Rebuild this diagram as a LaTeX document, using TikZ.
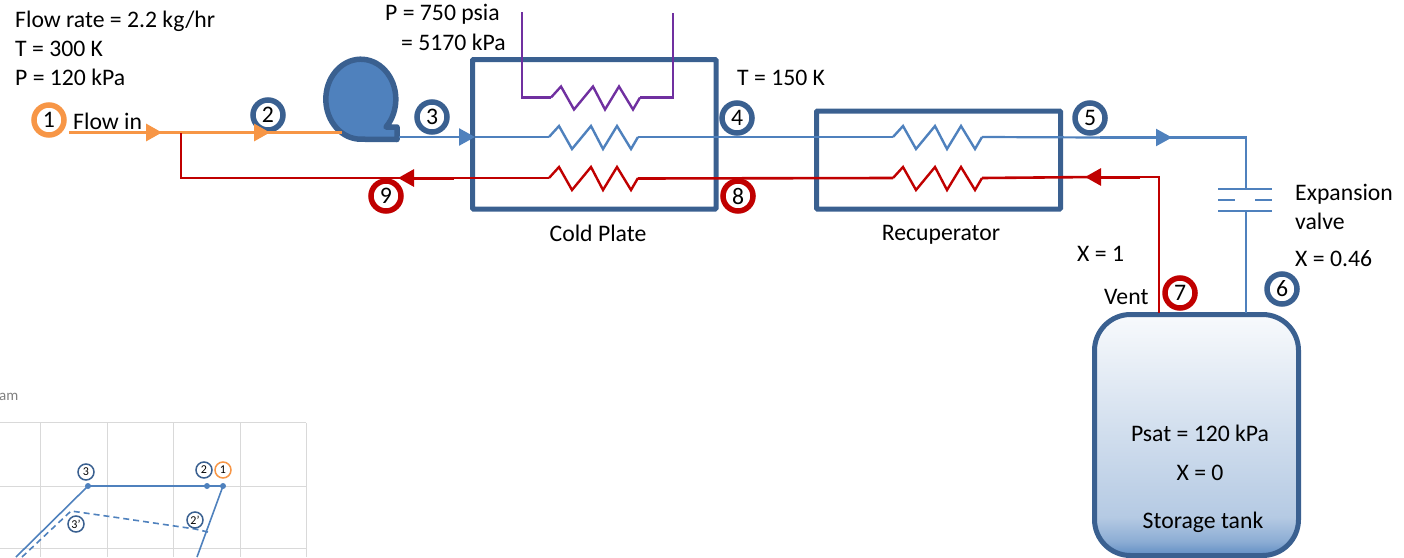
\documentclass[tikz,border=0pt]{standalone}
\usepackage{fontspec}
\setmainfont{Carlito}
\usetikzlibrary{arrows.meta}
\definecolor{boxblue}{HTML}{3A6090}
\definecolor{lineblue}{HTML}{4F81BD}
\definecolor{lineorange}{HTML}{F79646}
\definecolor{linered}{HTML}{C00000}
\definecolor{linepurple}{HTML}{7030A0}
\definecolor{gridgrey}{HTML}{D9D9D9}
\pgfdeclareverticalshading{tankshade}{100bp}{color(0bp)=(lineblue!90); color(25bp)=(lineblue!90); color(28bp)=(lineblue!65); color(33bp)=(lineblue!42); color(75bp)=(lineblue!4); color(100bp)=(lineblue!4)}
\tikzstyle{txt}=[inner sep=0pt, anchor=west, font=\fontsize{23.7}{28}\selectfont]
\tikzstyle{ctxt}=[txt, anchor=center]
\tikzstyle{tag}=[circle, draw, line width=5.5pt, fill=white, inner sep=0pt, minimum size=30pt, font=\fontsize{23.7}{28}\selectfont]
\tikzstyle{smalltag}=[circle, draw=boxblue, line width=1.5pt, fill=white, inner sep=0pt, minimum size=16pt, font=\fontsize{12}{14}\selectfont]
\tikzstyle{unit}=[draw=boxblue, line width=5pt, rounded corners=1pt, inner sep=0pt]
\tikzstyle{tip}=[-{Triangle[length=16pt,width=17pt]}]
\tikzset{coil/.pic={\draw[pic actions, line width=2.4pt] (0,0) -- (10,-11) -- (23,12) -- (42,-11) -- (54,12) -- (68,-11) -- (82,12) -- (89,0);}}
\begin{document}
\begin{tikzpicture}[x=1pt, y=-1pt]
\useasboundingbox (0,0) rectangle (1404,557);
% Chart
    \node[inner sep=0pt, anchor=west, text=gray, font=\fontsize{15}{18}\selectfont] (chartname) at (-1,397) {am};
    \draw[gridgrey, line width=1pt] (0,422.5) -- (306,422.5);
    \draw[gridgrey, line width=1pt] (0,486) -- (306,486);
    \draw[gridgrey, line width=1pt] (0,548) -- (306,548);
    \draw[gridgrey, line width=1pt] (40.5,422.5) -- (40.5,557);
    \draw[gridgrey, line width=1pt] (107,422.5) -- (107,557);
    \draw[gridgrey, line width=1pt] (173,422.5) -- (173,557);
    \draw[gridgrey, line width=1pt] (240,422.5) -- (240,557);
    \draw[gridgrey, line width=1pt] (306,422.5) -- (306,557);
    \draw[lineblue, line width=1.6pt] (16,557) -- (88,486) -- (223,486) -- (197,557);
    \draw[lineblue, line width=1.6pt, dash pattern=on 6pt off 4pt] (22,557) -- (71,511) -- (120,518) -- (195,529) -- (208,532);
    \fill[lineblue] (88,486) circle(3);
    \fill[lineblue] (207,486) circle(3);
    \fill[lineblue] (223,486) circle(3);
    \node[smalltag] (chartthree) at (86,472) {3};
    \node[smalltag] (charttwo) at (204,470) {2};
    \node[smalltag, draw=lineorange] (chartone) at (223,470) {1};
    \node[smalltag] (chartthreep) at (76,524) {3'};
    \node[smalltag] (charttwop) at (195,520) {2'};
% Units
    \node[unit, minimum width=243.5pt, minimum height=149.5pt] (coldplate) at (594.25,134.25) {};
    \node[unit, minimum width=244pt, minimum height=98pt] (recuperator) at (938.5,160) {};
    \node[unit, rounded corners=36pt, shading=tankshade, minimum width=204pt, minimum height=241pt] (tank) at (1196.5,435) {};
% Pump
    \draw[draw=boxblue, fill=lineblue, line width=5.5pt, line join=round] (397,139.5) -- (397,127) -- (386,127) arc[start angle=44, end angle=-270, x radius=35, y radius=40] -- cycle;
    \coordinate (pumpin) at (342,132.5);
    \coordinate (pumpout) at (399,137);
% Numbers
    \node[tag, draw=lineorange] (one) at (49,120) {1};
    \node[tag, draw=boxblue] (two) at (268,115) {2};
    \node[tag, draw=boxblue] (three) at (432,117) {3};
    \node[tag, draw=boxblue] (four) at (737,118) {4};
    \node[tag, draw=boxblue] (five) at (1090,118) {5};
    \node[tag, draw=boxblue] (six) at (1282,289) {6};
    \node[tag, draw=linered] (seven) at (1180,293) {7};
    \node[tag, draw=linered] (eight) at (738,196) {8};
    \node[tag, draw=linered] (nine) at (386,196) {9};
% Stream points
    \coordinate (inlet) at (69,132.5);
    \coordinate (tee) at (181,132.5);
    \coordinate (teelow) at (181,178);
    \coordinate (bluebend) at (1246,137.5);
    \coordinate (valvetop) at (1246,189);
    \coordinate (valvelow) at (1246,211);
    \coordinate (tankblue) at (1246,313);
    \coordinate (tankred) at (1159,313);
    \coordinate (redbend) at (1159,177);
% Orange feed
    \draw[lineorange, line width=2.2pt] (inlet) -- (pumpin);
    \draw[lineorange, line width=3.2pt, tip] (103,132.5) -- (162,132.5);
    \draw[lineorange, line width=3.2pt, tip] (210,132.5) -- (270,132.5);
% Blue stream
    \draw[lineblue, line width=2.5pt, tip] (pumpout) -- (475,137);
    \draw[lineblue, line width=2.2pt] (475,137) -- (549,137);
    \pic[lineblue] at (549,137) {coil};
    \draw[lineblue, line width=2.2pt] (638,137) -- (893,137);
    \pic[lineblue] at (893,137) {coil};
    \draw[lineblue, line width=2.2pt] (982,137) -- (1100,137.5);
    \draw[lineblue, line width=2.2pt, tip] (1100,137.5) -- (1172,137.5);
    \draw[lineblue, line width=2.2pt] (1160,137.5) -- (bluebend) -- (valvetop);
    \draw[lineblue, line width=2.2pt] (valvelow) -- (tankblue);
% Valve
    \draw[lineblue, line width=1.8pt] (1218,189) -- (1272,189);
    \draw[lineblue, line width=1.8pt] (1218,200) -- (1235,200);
    \draw[lineblue, line width=1.8pt] (1255,200) -- (1272,200);
    \draw[lineblue, line width=1.8pt] (1218,211) -- (1272,211);
% Red return
    \draw[linered, line width=2.6pt] (tankred) -- (redbend) -- (1099,177);
    \draw[linered, line width=3pt, tip] (1140,177) -- (1085,177);
    \draw[linered, line width=2.6pt] (1095,177) -- (982,178);
    \pic[linered] at (893,178) {coil};
    \draw[linered, line width=2.6pt] (893,178) -- (638,178.5);
    \pic[linered] at (549,178) {coil};
    \draw[linered, line width=2.6pt] (549,178) -- (teelow) -- (tee);
    \draw[linered, line width=3pt, tip] (454,178) -- (398,178);
% Purple loop
    \coordinate (purpletopa) at (522,12);
    \coordinate (purpletopb) at (673,13);
    \draw[linepurple, line width=2.2pt] (purpletopa) -- (522,97.5) -- (551,97.5);
    \pic[linepurple] at (551,97.5) {coil};
    \draw[linepurple, line width=2.2pt] (640,97.5) -- (673,97.5) -- (purpletopb);
% Texts
    \node[txt] (flowrate) at (15,21) {Flow rate = 2.2 kg/hr};
    \node[txt] (tempin) at (15,49) {T = 300 K};
    \node[txt] (presin) at (15,77) {P = 120 kPa};
    \node[txt] (flowin) at (73,121) {Flow in};
    \node[txt] (presa) at (385,14) {P = 750 psia};
    \node[txt] (presb) at (401,42) {= 5170 kPa};
    \node[txt] (tempout) at (737,78) {T = 150 K};
    \node[ctxt] (coldname) at (598,233) {Cold Plate};
    \node[ctxt] (recupname) at (941,235) {Recuperator};
    \node[txt] (valvea) at (1295,194) {Expansion};
    \node[txt] (valveb) at (1295,221) {valve};
    \node[txt] (qualvalve) at (1295,259) {X = 0.46};
    \node[txt] (qualvent) at (1077,254) {X = 1};
    \node[txt] (vent) at (1104,297) {Vent};
    \node[ctxt] (psat) at (1200,433) {Psat = 120 kPa};
    \node[ctxt] (qualtank) at (1200,473) {X = 0};
    \node[ctxt] (tankname) at (1203,522) {Storage tank};
\end{tikzpicture}
\end{document}
